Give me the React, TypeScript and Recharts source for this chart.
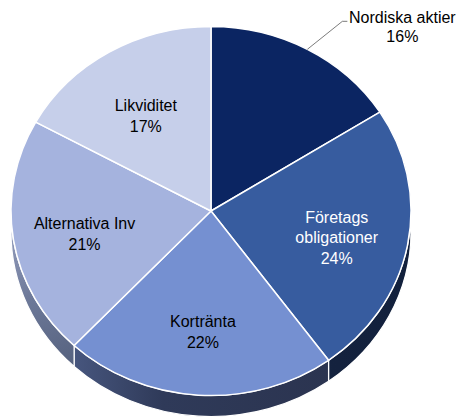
import { PieChart, Pie, Cell } from 'recharts';

const categories = ['Nordiska aktier', 'Företags\nobligationer', 'Kortränta', 'Alternativa Inv', 'Likviditet'];
const shares = [16, 24, 22, 21, 17];
const topColors = ['#0b2562', '#375c9f', '#7590d1', '#a5b3de', '#c6cfea'];
const sideColors = ['url(#side0)', 'url(#side1)', 'url(#side2)', 'url(#side3)', 'url(#side4)'];

const data = categories.map((name, i) => ({ name, value: shares[i] }));

// chart geometry: tilted pie (ellipse) with a visible rim
const CX = 211;
const CY = 211;
const R = 200;
const TILT = 0.9225;
const DEPTH = 21;
const RAD = Math.PI / 180;
const FONT = 'Arial, "Liberation Sans", sans-serif';

const pt = (cx: number, cy: number, r: number, a: number): [number, number] => [
  cx + r * Math.cos(a * RAD),
  cy - r * TILT * Math.sin(a * RAD),
];

function TopSlice(props: any) {
  const { cx, cy, outerRadius, startAngle, endAngle, fill } = props;
  const [x1, y1] = pt(cx, cy, outerRadius, startAngle);
  const [x2, y2] = pt(cx, cy, outerRadius, endAngle);
  const large = Math.abs(startAngle - endAngle) > 180 ? 1 : 0;
  const sweep = startAngle > endAngle ? 1 : 0;
  return (
    <path
      d={`M${cx},${cy}L${x1},${y1}A${outerRadius},${outerRadius * TILT} 0 ${large} ${sweep} ${x2},${y2}Z`}
      fill={fill}
      stroke="#fff"
      strokeWidth={1.5}
      strokeLinejoin="round"
    />
  );
}

function SideSlice(props: any) {
  const { cx, cy, outerRadius, startAngle, endAngle, fill } = props;
  const hi = Math.max(startAngle, endAngle);
  const lo = Math.min(startAngle, endAngle);
  // front half of the disc: angles between -180 and 0
  const a1 = Math.min(hi, 0);
  const a2 = Math.max(lo, -180);
  if (a1 <= a2) return <g />;
  const rx = outerRadius;
  const ry = outerRadius * TILT;
  const [x1, y1] = pt(cx, cy, outerRadius, a1);
  const [x2, y2] = pt(cx, cy, outerRadius, a2);
  return (
    <path
      d={`M${x1},${y1}A${rx},${ry} 0 0 1 ${x2},${y2}L${x2},${y2 + DEPTH}A${rx},${ry} 0 0 0 ${x1},${y1 + DEPTH}Z`}
      fill={fill}
      stroke="#fff"
      strokeWidth={1.2}
      strokeLinejoin="round"
    />
  );
}

function renderLabel(props: any) {
  const { cx, cy, midAngle, outerRadius, percent, index, name } = props;
  const pct = `${Math.round(percent * 100)}%`;
  const lines = [...String(name).split('\n'), pct];
  if (index === 0) {
    const [sx, sy] = pt(cx, cy, outerRadius, midAngle);
    const ex = sx + 35;
    const ey = sy - 28;
    return (
      <g>
        <polyline points={`${sx},${sy} ${ex},${ey} ${ex + 5},${ey}`} fill="none" stroke="#595959" strokeWidth={0.8} />
        {lines.map((t, i) => (
          <text
            key={i}
            x={ex + 60}
            y={ey - 4 + i * 19}
            textAnchor="middle"
            dominantBaseline="central"
            fontFamily={FONT}
            fontSize={16}
            fill="#000"
          >
            {t}
          </text>
        ))}
      </g>
    );
  }
  const lx = cx + outerRadius * 0.64 * Math.cos(midAngle * RAD);
  const ly = cy - outerRadius * TILT * 0.63 * Math.sin(midAngle * RAD) + 5;
  const lh = 20.5;
  const top = ly - ((lines.length - 1) * lh) / 2;
  const light = index === 1;
  return (
    <g>
      {lines.map((t, i) => (
        <text
          key={i}
          x={lx}
          y={top + i * lh}
          textAnchor="middle"
          dominantBaseline="central"
          fontFamily={FONT}
          fontSize={16}
          fill={light ? '#fff' : '#000'}
        >
          {t}
        </text>
      ))}
    </g>
  );
}

export default function App() {
  return (
    <div style={{ position: 'absolute', left: 0, top: 0, width: 461, height: 420, background: '#fff' }}>
      <PieChart width={461} height={420} margin={{ top: 0, right: 0, bottom: 0, left: 0 }}>
        <defs>
          <linearGradient id="side0" x1="0" y1="0" x2="1" y2="0">
            <stop offset="0" stopColor="#0b1a40" />
            <stop offset="1" stopColor="#0b1a40" />
          </linearGradient>
          <linearGradient id="side1" x1="300" y1="0" x2="411" y2="0" gradientUnits="userSpaceOnUse">
            <stop offset="0" stopColor="#15233f" />
            <stop offset="1" stopColor="#12203c" />
          </linearGradient>
          <linearGradient id="side2" x1="73" y1="0" x2="330" y2="0" gradientUnits="userSpaceOnUse">
            <stop offset="0" stopColor="#47567e" />
            <stop offset="0.35" stopColor="#2f3a59" />
            <stop offset="1" stopColor="#2b3450" />
          </linearGradient>
          <linearGradient id="side3" x1="11" y1="220" x2="73" y2="365" gradientUnits="userSpaceOnUse">
            <stop offset="0" stopColor="#98a2c2" />
            <stop offset="0.5" stopColor="#6d7999" />
            <stop offset="1" stopColor="#56627f" />
          </linearGradient>
          <linearGradient id="side4" x1="0" y1="0" x2="1" y2="0">
            <stop offset="0" stopColor="#8a94b4" />
            <stop offset="1" stopColor="#8a94b4" />
          </linearGradient>
        </defs>
        <Pie
          data={data}
          dataKey="value"
          nameKey="name"
          cx={CX}
          cy={CY}
          outerRadius={R}
          startAngle={90}
          endAngle={-270}
          stroke="none"
          shape={SideSlice}
          activeShape={SideSlice}
          inactiveShape={SideSlice}
          isAnimationActive={false}
        >
          {data.map((d, i) => (
            <Cell key={d.name} fill={sideColors[i]} />
          ))}
        </Pie>
        <Pie
          data={data}
          dataKey="value"
          nameKey="name"
          cx={CX}
          cy={CY}
          outerRadius={R}
          startAngle={90}
          endAngle={-270}
          stroke="#fff"
          shape={TopSlice}
          activeShape={TopSlice}
          inactiveShape={TopSlice}
          label={renderLabel}
          labelLine={false}
          isAnimationActive={false}
        >
          {data.map((d, i) => (
            <Cell key={d.name} fill={topColors[i]} />
          ))}
        </Pie>
      </PieChart>
    </div>
  );
}
